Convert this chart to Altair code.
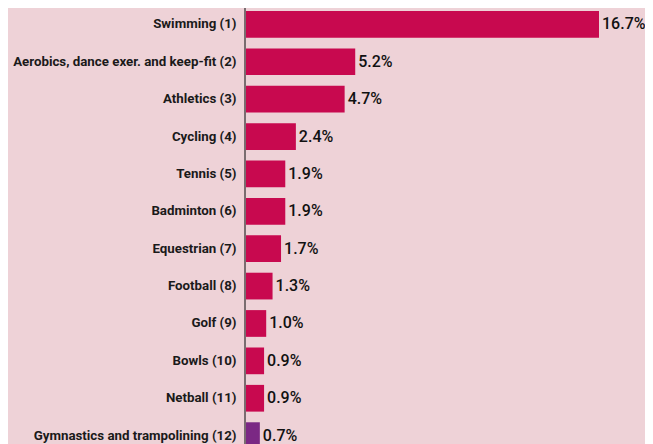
import altair as alt
import pandas as pd

categories = [
    "Swimming (1)",
    "Aerobics, dance exer. and keep-fit (2)",
    "Athletics (3)",
    "Cycling (4)",
    "Tennis (5)",
    "Badminton (6)",
    "Equestrian (7)",
    "Football (8)",
    "Golf (9)",
    "Bowls (10)",
    "Netball (11)",
    "Gymnastics and trampolining (12)",
]
values = [16.7, 5.2, 4.7, 2.4, 1.9, 1.9, 1.7, 1.3, 1.0, 0.9, 0.9, 0.7]
highlight = [False] * 11 + [True]

df = pd.DataFrame({
    "sport": categories,
    "pct": values,
    "hl": ["yes" if h else "no" for h in highlight],
    "label": [f"{v:.1f}%" for v in values],
})

H = 444
W = 400

y_enc = alt.Y(
    "sport:N",
    sort=categories,
    title=None,
    scale=alt.Scale(paddingInner=0.285, paddingOuter=0.08),
    axis=alt.Axis(
        domain=False,
        ticks=False,
        labelFont="Roboto",
        labelFontWeight="bold",
        labelFontSize=13.3,
        labelColor="#1a1a1a",
        labelPadding=9,
        labelLimit=400,
        grid=False,
    ),
)
x_enc = alt.X("pct:Q", scale=alt.Scale(domain=[0, 18.87], nice=False), axis=None)

bars = alt.Chart(df).mark_bar().encode(
    y=y_enc,
    x=x_enc,
    color=alt.Color(
        "hl:N",
        scale=alt.Scale(domain=["no", "yes"], range=["#C8094F", "#7B2884"]),
        legend=None,
    ),
)

text = alt.Chart(df).mark_text(
    align="left", baseline="middle", dx=3, dy=0, fontSize=16, fontWeight=500,
    font="Roboto", color="#111111"
).encode(y=alt.Y("sport:N", sort=categories), x="pct:Q", text="label:N")

axis_line = alt.Chart(df).mark_rule(color="#7a6d70", strokeWidth=2).encode(
    x=alt.value(0), y=alt.value(-3), y2=alt.value(H)
)

chart = (
    alt.layer(bars, text, axis_line)
    .properties(
        width=W,
        height=H,
        autosize=alt.AutoSizeParams(type="none"),
        padding={"left": 237, "top": 0, "right": 0, "bottom": 0},
        background="#EED2D7",
    )
    .configure_view(stroke=None)
)

chart.save("out.html", embed_options={"renderer": "svg", "actions": False})
